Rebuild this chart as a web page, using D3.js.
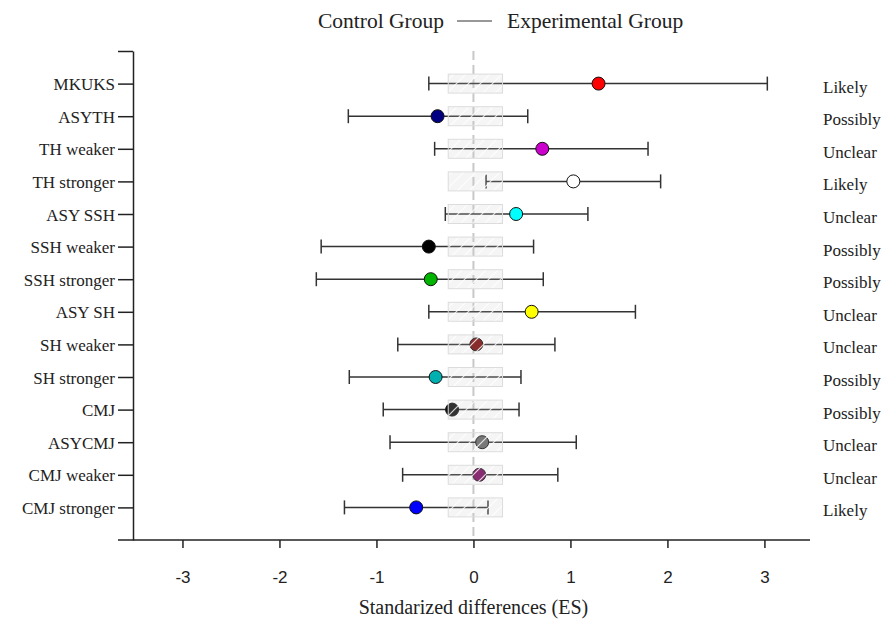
<!DOCTYPE html>
<html>
<head>
<meta charset="utf-8">
<script src="https://cdn.jsdelivr.net/npm/d3@7"></script>
<style>
  body { margin: 0; background: #fff; }
</style>
</head>
<body>
<div id="chart"></div>
<script>
// chart data
var categories = ["MKUKS", "ASYTH", "TH weaker", "TH stronger", "ASY SSH", "SSH weaker",
  "SSH stronger", "ASY SH", "SH weaker", "SH stronger", "CMJ", "ASYCMJ", "CMJ weaker", "CMJ stronger"];
var es =    [1.29, -0.37, 0.71, 1.03, 0.44, -0.46, -0.44, 0.60, 0.03, -0.39, -0.22, 0.09, 0.06, -0.59];
var lower = [-0.46, -1.29, -0.40, 0.13, -0.29, -1.57, -1.62, -0.46, -0.78, -1.28, -0.93, -0.86, -0.73, -1.33];
var upper = [3.03, 0.56, 1.80, 1.93, 1.18, 0.62, 0.72, 1.67, 0.84, 0.49, 0.47, 1.06, 0.87, 0.15];
var outcomes = ["Likely", "Possibly", "Unclear", "Likely", "Unclear", "Possibly", "Possibly",
  "Unclear", "Unclear", "Possibly", "Possibly", "Unclear", "Unclear", "Likely"];
var dotColors = ["#ff0000", "#000080", "#cc00cc", "#ffffff", "#00ffff", "#000000", "#00b400",
  "#ffff00", "#7a0a0a", "#00b0b0", "#111111", "#666666", "#7a0a5e", "#0000ff"];
var xTicks = [-3, -2, -1, 0, 1, 2, 3];
var trivialZone = [-0.26, 0.30];

var svgWidth = 885;
var svgHeight = 625;
var serif = "Liberation Serif";
var sans = "Liberation Sans";

var svg = d3.select("#chart")
  .append("svg")
  .attr("width", svgWidth)
  .attr("height", svgHeight);

// hatch pattern for the trivial zone boxes
var pattern = svg.append("defs").append("pattern")
  .attr("id", "hatch")
  .attr("patternUnits", "userSpaceOnUse")
  .attr("width", 12)
  .attr("height", 12);
pattern.append("rect")
  .attr("width", 12)
  .attr("height", 12)
  .attr("fill", "rgba(200,200,200,0.18)");
pattern.append("path")
  .attr("d", "M-3,3L3,-3M0,12L12,0M9,15L15,9")
  .attr("stroke", "rgba(255,255,255,0.8)")
  .attr("stroke-width", 1.2);

// scales
var xScale = d3.scaleLinear().domain([-3.51, 3.47]).range([133, 810]);
var yScale = d3.scaleLinear().domain([0, 15]).range([51, 540]);
var rowY = function(i) { return yScale(i + 1); };

// x axis
var xAxis = d3.axisBottom(xScale)
  .tickValues(xTicks)
  .tickFormat(d => String(d))
  .tickSize(8)
  .tickSizeOuter(0);

var xAxisGroup = svg.append("g")
  .attr("transform", "translate(0, 540)")
  .call(xAxis)
  .attr("font-family", sans)
  .attr("font-size", 17);
xAxisGroup.select(".domain").remove();
xAxisGroup.append("line")
  .attr("x1", 118)
  .attr("x2", 810)
  .attr("stroke", "#222")
  .attr("stroke-width", 1.5);
xAxisGroup.selectAll(".tick line").attr("stroke", "#222").attr("stroke-width", 1.5);
xAxisGroup.selectAll(".tick text")
  .attr("y", 31)
  .attr("fill", "#222");

// y axis, tick 0 is the top end tick
var yAxis = d3.axisLeft(yScale)
  .tickValues(d3.range(0, 15))
  .tickSize(15)
  .tickSizeOuter(0)
  .tickFormat(function(d) { return d === 0 ? "" : categories[d - 1]; });

var yAxisGroup = svg.append("g")
  .attr("transform", "translate(133, 0)")
  .call(yAxis)
  .attr("font-family", serif)
  .attr("font-size", 17);
yAxisGroup.selectAll("path, line").attr("stroke", "#222").attr("stroke-width", 1.5);
yAxisGroup.selectAll(".tick text")
  .attr("dy", "0.36em")
  .attr("fill", "#222");

// zero line
svg.append("line")
  .attr("x1", xScale(0))
  .attr("x2", xScale(0))
  .attr("y1", 51)
  .attr("y2", 540)
  .attr("stroke", "#c8c8c8")
  .attr("stroke-width", 2)
  .attr("stroke-dasharray", "9,5");

// error bars
var bars = svg.append("g")
  .selectAll("g")
  .data(categories)
  .enter()
  .append("g");

bars.append("line")
  .attr("x1", (d, i) => xScale(lower[i]))
  .attr("x2", (d, i) => xScale(upper[i]))
  .attr("y1", (d, i) => rowY(i))
  .attr("y2", (d, i) => rowY(i))
  .attr("stroke", "#333")
  .attr("stroke-width", 1.5);

bars.append("line")
  .attr("x1", (d, i) => xScale(lower[i]))
  .attr("x2", (d, i) => xScale(lower[i]))
  .attr("y1", (d, i) => rowY(i) - 7)
  .attr("y2", (d, i) => rowY(i) + 7)
  .attr("stroke", "#333")
  .attr("stroke-width", 1.5);

bars.append("line")
  .attr("x1", (d, i) => xScale(upper[i]))
  .attr("x2", (d, i) => xScale(upper[i]))
  .attr("y1", (d, i) => rowY(i) - 7)
  .attr("y2", (d, i) => rowY(i) + 7)
  .attr("stroke", "#333")
  .attr("stroke-width", 1.5);

// point estimates
bars.append("circle")
  .attr("cx", (d, i) => xScale(es[i]))
  .attr("cy", (d, i) => rowY(i))
  .attr("r", 6.5)
  .attr("fill", (d, i) => dotColors[i])
  .attr("stroke", "#111")
  .attr("stroke-width", 1);

// trivial zone boxes on top
svg.append("g")
  .selectAll("rect")
  .data(categories)
  .enter()
  .append("rect")
  .attr("x", xScale(trivialZone[0]))
  .attr("width", xScale(trivialZone[1]) - xScale(trivialZone[0]))
  .attr("y", (d, i) => rowY(i) - 9.5)
  .attr("height", 19)
  .attr("fill", "url(#hatch)")
  .attr("stroke", "#dcdcdc")
  .attr("stroke-width", 1);

// qualitative outcome labels
svg.append("g")
  .attr("font-family", serif)
  .attr("font-size", 17)
  .selectAll("text")
  .data(outcomes)
  .enter()
  .append("text")
  .attr("x", 823)
  .attr("y", (d, i) => rowY(i) + 9)
  .attr("fill", "#222")
  .text(d => d);

// legend
var legend = svg.append("g")
  .attr("font-family", serif)
  .attr("font-size", 21.5);
legend.append("text")
  .attr("x", 444)
  .attr("y", 28)
  .attr("text-anchor", "end")
  .attr("fill", "#222")
  .text("Control Group");
legend.append("line")
  .attr("x1", 457)
  .attr("x2", 492)
  .attr("y1", 21)
  .attr("y2", 21)
  .attr("stroke", "#333")
  .attr("stroke-width", 1);
legend.append("text")
  .attr("x", 507)
  .attr("y", 28)
  .attr("fill", "#222")
  .text("Experimental Group");

// x axis title
svg.append("text")
  .attr("font-family", serif)
  .attr("font-size", 20)
  .attr("x", xScale(0))
  .attr("y", 614)
  .attr("text-anchor", "middle")
  .attr("fill", "#222")
  .text("Standarized differences (ES)");
</script>
</body>
</html>
